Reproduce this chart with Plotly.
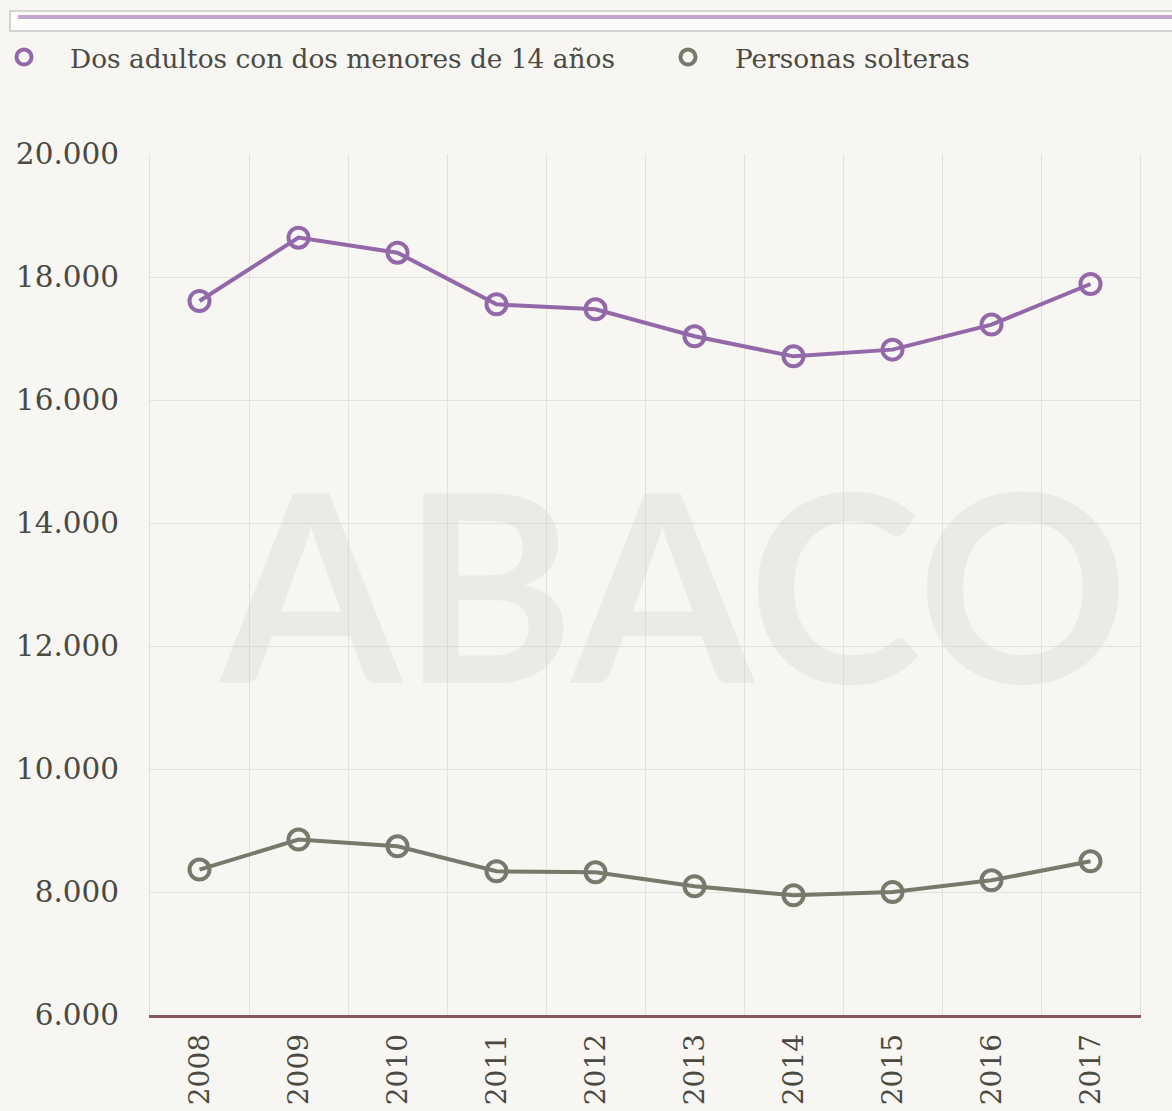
import plotly.graph_objects as go

years = ["2008", "2009", "2010", "2011", "2012", "2013", "2014", "2015", "2016", "2017"]
dos_adultos = [17610, 18640, 18395, 17556, 17475, 17036, 16710, 16819, 17226, 17886]
solteras = [8364, 8852, 8743, 8337, 8320, 8093, 7946, 8000, 8190, 8499]
series_names = ["Dos adultos con dos menores de 14 años", "Personas solteras"]
y_ticks = [6000, 8000, 10000, 12000, 14000, 16000, 18000, 20000]
y_tick_text = ["6.000", "8.000", "10.000", "12.000", "14.000", "16.000", "18.000", "20.000"]

PURPLE = "#9268a9"
GREY = "#78786b"
TEXT = "#4a4a42"
BG = "#f7f6f2"
GRID = "#e3e1dd"
FONT = "DejaVu Serif"

W, H = 1172, 1111
ML, MR, MT, MB = 150, 32, 154, 96
PW, PH = W - ML - MR, H - MT - MB


def px(x):
    return (x - ML) / PW


def py(y):
    return (H - MB - y) / PH


fig = go.Figure()
for vals, name, col in [(dos_adultos, series_names[0], PURPLE), (solteras, series_names[1], GREY)]:
    fig.add_trace(go.Scatter(
        x=years, y=vals, name=name, mode="lines+markers",
        line=dict(color=col, width=4),
        marker=dict(symbol="circle-open", size=20, color=col, line=dict(width=4, color=col)),
        showlegend=False,
    ))

shapes = []
# top bar
shapes.append(dict(type="rect", xref="paper", yref="paper",
                   x0=px(10), x1=px(1185), y0=py(31), y1=py(11),
                   fillcolor="#fcfcfb", line=dict(color="#c9c8c6", width=1.5), layer="above"))
shapes.append(dict(type="line", xref="paper", yref="paper",
                   x0=px(18), x1=px(1172), y0=py(17), y1=py(17),
                   line=dict(color="#c3a6cf", width=4), layer="above"))
# legend markers
for cx, col in [(24, PURPLE), (688, GREY)]:
    shapes.append(dict(type="circle", xref="paper", yref="paper",
                       xsizemode="pixel", ysizemode="pixel",
                       xanchor=px(cx), yanchor=py(57),
                       x0=-7.5, x1=7.5, y0=-7.5, y1=7.5,
                       line=dict(color=col, width=4), fillcolor="rgba(0,0,0,0)"))

annotations = [
    dict(text=series_names[0], xref="paper", yref="paper", x=px(68), y=py(58),
         xanchor="left", yanchor="middle", showarrow=False,
         font=dict(family=FONT, size=26.4, color=TEXT)),
    dict(text=series_names[1], xref="paper", yref="paper", x=px(733), y=py(58),
         xanchor="left", yanchor="middle", showarrow=False,
         font=dict(family=FONT, size=26.4, color=TEXT)),
    dict(text="ABACO", xref="paper", yref="paper", x=px(672), y=py(581),
         xanchor="center", yanchor="middle", showarrow=False,
         font=dict(family="Lato", size=262, weight="bold", color="rgba(200,198,190,0.24)")),
]

fig.update_layout(
    width=W, height=H,
    margin=dict(l=ML, r=MR, t=MT, b=MB, autoexpand=False),
    paper_bgcolor=BG, plot_bgcolor=BG,
    showlegend=False,
    shapes=shapes,
    annotations=annotations,
    font=dict(family=FONT, color=TEXT),
)
fig.update_xaxes(
    type="category", categoryorder="array", categoryarray=years,
    range=[-0.5, len(years) - 0.5], tickson="boundaries",
    showgrid=True, gridcolor=GRID, gridwidth=1,
    showline=True, linecolor="#855a5c", linewidth=2.5,
    ticks="", tickangle=-90, ticklabelstandoff=5,
    tickfont=dict(family=FONT, size=28, color=TEXT),
    zeroline=False, automargin=False,
)
fig.update_yaxes(
    range=[6000, 20000], tickvals=y_ticks, ticktext=y_tick_text,
    showgrid=True, gridcolor=GRID, gridwidth=1,
    showline=True, linecolor=GRID, linewidth=1, mirror=True,
    zeroline=False, ticks="", ticklabelstandoff=24,
    tickfont=dict(family=FONT, size=29.5, color=TEXT), automargin=False,
)

fig.write_html(
    "out.html",
    config={"displayModeBar": False},
    post_script="document.body.style.margin='0px';document.body.style.background='%s';" % BG,
)
